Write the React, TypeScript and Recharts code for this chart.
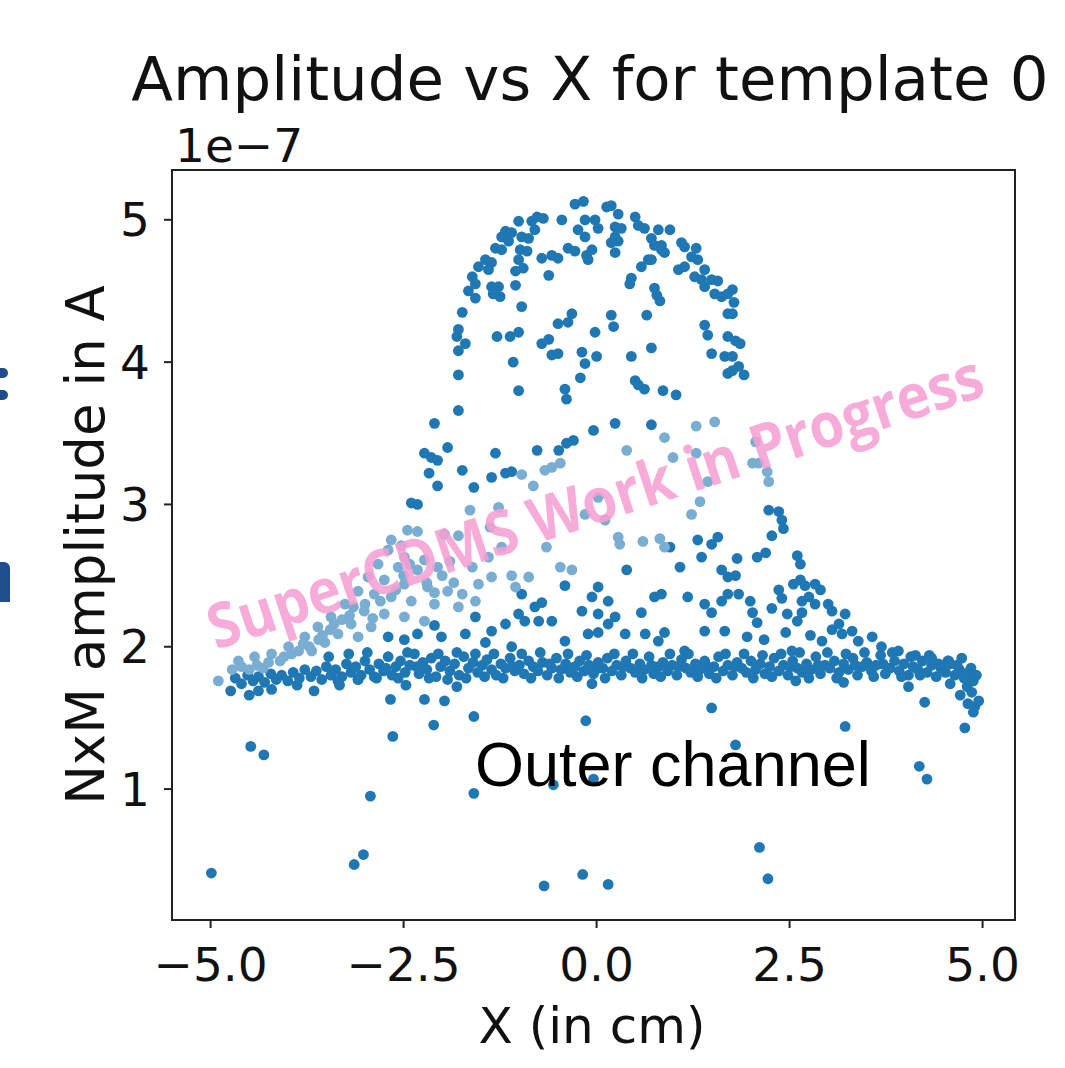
import { ScatterChart, Scatter, XAxis, YAxis } from 'recharts';

// x in cm, amplitude in units of 1e-7 A
const archPoints: [number, number][] = [
  [-0.17, 5.13], [-0.28, 5.11], [0.13, 5.09], [0.19, 5.1], [-0.77, 5.02], [-0.69, 5.01], [-0.45, 5.0],
  [-1.01, 4.99], [-0.84, 4.99], [-0.15, 5.0], [-0.02, 5.0], [0.28, 5.04], [0.5, 5.02], [0.24, 4.95],
  [0.32, 4.94], [0.02, 4.94], [-0.24, 4.93], [-0.15, 4.88], [-1.18, 4.92], [-1.1, 4.91], [-1.23, 4.88],
  [-0.97, 4.88], [-0.88, 4.87], [-0.8, 4.93], [0.54, 4.96], [0.62, 4.94], [0.8, 4.93], [0.95, 4.93],
  [0.24, 4.88], [0.28, 4.85], [0.19, 4.84], [0.71, 4.87], [0.75, 4.82], [0.84, 4.82], [1.1, 4.84],
  [1.14, 4.81], [1.29, 4.8], [-1.31, 4.8], [-1.23, 4.79], [-1.14, 4.85], [-0.99, 4.79], [-0.9, 4.78],
  [-0.71, 4.73], [-0.58, 4.75], [-0.5, 4.73], [-0.37, 4.8], [-0.28, 4.78], [-0.13, 4.75], [-0.06, 4.79],
  [-0.11, 4.72], [0.24, 4.77], [0.67, 4.72], [0.84, 4.79], [0.88, 4.77], [-1.44, 4.72], [-1.36, 4.7],
  [-1.4, 4.65], [-1.53, 4.67], [-1.01, 4.72], [-0.95, 4.66], [-1.05, 4.64], [-0.62, 4.61], [0.58, 4.67],
  [0.71, 4.72], [1.23, 4.74], [1.31, 4.72], [1.4, 4.65], [1.06, 4.65], [1.14, 4.67], [1.27, 4.6],
  [1.36, 4.58], [1.49, 4.58], [1.57, 4.57], [1.4, 4.53], [1.53, 4.48], [1.62, 4.46], [1.7, 4.48],
  [-1.61, 4.6], [-1.57, 4.55], [-1.66, 4.5], [-1.57, 4.45], [-1.36, 4.53], [-1.27, 4.53], [-1.34, 4.48],
  [-1.25, 4.46], [-1.05, 4.54], [0.45, 4.59], [0.43, 4.55], [0.75, 4.52], [0.78, 4.47], [0.82, 4.43],
  [-1.74, 4.35], [-0.97, 4.39], [-0.32, 4.34], [-0.37, 4.28], [-0.5, 4.27], [0.19, 4.33], [0.22, 4.25],
  [-0.02, 4.21], [0.65, 4.33], [1.4, 4.26], [1.44, 4.19], [1.7, 4.34], [1.7, 4.18], [-1.79, 4.23],
  [-1.81, 4.18], [-1.7, 4.13], [-1.79, 4.08], [-1.29, 4.18], [-1.12, 4.18], [-1.01, 4.21], [-0.71, 4.13],
  [-0.62, 4.16], [-0.58, 4.05], [-0.5, 4.06], [-0.19, 4.07], [-0.15, 3.99], [0.0, 4.04], [0.45, 4.04],
  [0.71, 4.1], [1.49, 4.06], [1.66, 4.04], [1.7, 3.92], [-1.79, 3.91], [-1.08, 4.0], [-0.21, 3.89],
  [0.5, 3.87], [0.62, 3.81], [0.54, 3.84], [0.86, 3.8], [1.03, 3.77], [-1.01, 3.8], [-0.41, 3.81],
  [-0.39, 3.74], [-1.79, 3.66], [1.76, 4.51], [1.78, 4.42], [1.76, 4.34], [1.8, 4.15], [1.86, 4.13],
  [1.76, 4.04], [1.84, 3.97], [1.91, 3.91], [1.76, 3.94],
];

const midPoints: [number, number][] = [
  [-2.1, 3.57], [-1.93, 3.4], [-2.23, 3.36], [-2.14, 3.33], [-2.06, 3.31], [-2.17, 3.22], [-2.06, 3.13],
  [-2.4, 3.01], [-2.32, 3.0], [-2.1, 2.15], [-2.7, 2.07], [-2.49, 2.05], [-2.32, 2.09], [-2.01, 2.07],
  [-0.04, 3.52], [0.24, 3.57], [0.71, 3.56], [-1.31, 3.36], [-0.77, 3.38], [-0.49, 3.38], [-0.39, 3.43],
  [-0.3, 3.45], [-1.74, 3.24], [-1.36, 3.19], [-1.18, 3.22], [-1.1, 3.23], [-1.59, 3.12], [0.95, 2.7],
  [1.31, 2.75], [1.49, 2.72], [1.57, 2.77], [1.36, 2.63], [0.39, 2.54], [1.08, 2.56], [1.62, 2.54],
  [1.7, 2.49], [-0.41, 2.43], [-0.97, 2.37], [-0.71, 2.31], [-0.8, 2.28], [0.02, 2.42], [0.15, 2.32],
  [-0.06, 2.35], [-0.19, 2.25], [0.02, 2.23], [0.24, 2.21], [0.15, 2.16], [-0.11, 2.09], [0.02, 2.1],
  [0.58, 2.24], [0.75, 2.35], [0.84, 2.37], [1.18, 2.35], [1.4, 2.3], [1.49, 2.24], [1.62, 2.32],
  [1.7, 2.37], [-1.01, 2.23], [-0.93, 2.18], [-0.75, 2.18], [-0.58, 2.18], [-1.18, 2.16], [-1.36, 2.11],
  [-1.57, 2.21], [-1.7, 2.09], [0.88, 2.1], [0.63, 2.09], [1.4, 2.11], [1.66, 2.11], [0.37, 2.09],
  [-0.41, 2.04], [-1.44, 2.03], [-1.1, 2.0], [0.8, 2.04], [1.14, 1.97],
  [2.23, 2.96], [2.36, 2.95], [2.4, 2.89], [2.42, 2.83], [2.27, 2.78], [1.82, 2.62], [2.08, 2.63],
  [2.19, 2.66], [2.6, 2.64], [2.64, 2.58], [1.8, 2.5], [1.84, 2.37], [2.55, 2.44], [2.64, 2.47],
  [2.7, 2.43], [2.83, 2.44], [2.9, 2.4], [2.36, 2.4], [2.4, 2.34], [1.99, 2.32], [2.27, 2.27],
  [2.66, 2.32], [2.75, 2.35], [2.83, 2.3], [3.0, 2.3], [3.05, 2.25], [3.22, 2.23], [2.66, 2.24],
  [2.6, 2.18], [2.47, 2.23], [2.02, 2.24], [2.08, 2.17], [2.45, 2.1], [2.77, 2.08], [3.05, 2.12],
  [3.14, 2.16], [3.18, 2.09], [3.31, 2.11], [3.57, 2.07], [3.39, 2.04], [2.92, 2.04], [1.95, 2.07],
  [2.17, 2.05], [2.53, 1.97], [3.69, 2.0], [3.91, 1.97], [4.13, 1.94], [4.34, 1.92], [4.56, 1.9],
];

const bandPoints: [number, number][] = [
  [-4.68, 1.78], [-4.6, 1.74], [-4.52, 1.8], [-4.45, 1.76], [-4.38, 1.79], [-4.3, 1.75], [-4.22, 1.81],
  [-4.15, 1.77], [-4.08, 1.8], [-4.0, 1.76], [-3.93, 1.82], [-3.85, 1.78], [-3.78, 1.84], [-3.7, 1.79],
  [-3.63, 1.83], [-3.56, 1.77], [-3.5, 1.86], [-3.44, 1.8], [-3.38, 1.84], [-3.3, 1.79], [-3.24, 1.88],
  [-3.18, 1.82], [-3.12, 1.86], [-3.05, 1.8], [-3.0, 1.9], [-2.94, 1.84], [-2.88, 1.79], [-2.82, 1.88],
  [-2.76, 1.83], [-2.7, 1.93], [-2.65, 1.8], [-2.6, 1.86], [-2.54, 1.9], [-2.48, 1.82], [-2.42, 1.87],
  [-2.36, 1.95], [-2.3, 1.81], [-2.25, 1.89], [-2.2, 1.84], [-2.14, 1.92], [-2.08, 1.79], [-2.02, 1.86],
  [-1.96, 1.9], [-1.9, 1.83], [-1.84, 1.88], [-1.78, 1.8], [-1.72, 1.93], [-1.66, 1.85], [-1.6, 1.89],
  [-1.54, 1.82], [-1.48, 1.87], [-1.42, 1.91], [-1.36, 1.84], [-1.3, 1.8], [-1.24, 1.88], [-1.18, 1.85],
  [-1.12, 1.92], [-1.06, 1.83], [-1.0, 1.87], [-0.94, 1.81], [-0.88, 1.9], [-0.82, 1.86], [-0.76, 1.83],
  [-0.7, 1.89], [-0.64, 1.8], [-0.58, 1.85], [-0.52, 1.92], [-0.46, 1.84], [-0.4, 1.88], [-0.34, 1.82],
  [-0.28, 1.86], [-0.22, 1.9], [-0.16, 1.83], [-0.1, 1.87], [-0.04, 1.81], [0.02, 1.89], [0.08, 1.85],
  [0.14, 1.92], [0.2, 1.83], [0.26, 1.87], [0.32, 1.8], [0.38, 1.9], [0.44, 1.85], [0.5, 1.82],
  [0.56, 1.88], [0.62, 1.84], [0.68, 1.93], [0.74, 1.81], [0.8, 1.86], [0.86, 1.89], [0.92, 1.83],
  [0.98, 1.87], [1.04, 1.8], [1.1, 1.91], [1.16, 1.85], [1.22, 1.82], [1.28, 1.88], [1.34, 1.84],
  [1.4, 1.9], [1.46, 1.81], [1.52, 1.86], [1.58, 1.93], [1.64, 1.83], [1.7, 1.87], [1.76, 1.8],
  [1.82, 1.89], [1.88, 1.85], [1.94, 1.82], [2.0, 1.9], [2.06, 1.84], [2.12, 1.88], [2.18, 1.81],
  [2.24, 1.86], [2.3, 1.92], [2.36, 1.83], [2.42, 1.87], [2.48, 1.8], [2.54, 1.9], [2.6, 1.85],
  [2.66, 1.82], [2.72, 1.88], [2.78, 1.84], [2.84, 1.93], [2.9, 1.81], [2.96, 1.87], [3.02, 1.85],
  [3.08, 1.9], [3.14, 1.82], [3.2, 1.88], [3.26, 1.84], [3.32, 1.92], [3.38, 1.8], [3.44, 1.86],
  [3.5, 1.89], [3.56, 1.83], [3.62, 1.87], [3.68, 1.94], [3.74, 1.81], [3.8, 1.85], [3.86, 1.9],
  [3.92, 1.83], [3.98, 1.88], [4.04, 1.8], [4.1, 1.86], [4.16, 1.84], [4.22, 1.9], [4.28, 1.82],
  [4.34, 1.87], [4.4, 1.79], [4.46, 1.85], [4.52, 1.82], [4.58, 1.88], [4.64, 1.8], [4.7, 1.84],
  [4.76, 1.78], [4.82, 1.82], [4.88, 1.76], [4.92, 1.8], [4.95, 1.62], [4.9, 1.58], [4.86, 1.68],
  [4.8, 1.72],
  [-3.47, 1.93], [-3.35, 1.76], [-3.21, 1.95], [-3.09, 1.77], [-2.97, 1.96], [-2.85, 1.78], [-2.73, 1.85],
  [-2.57, 1.78], [-2.45, 1.96], [-2.33, 1.86], [-2.17, 1.78], [-2.05, 1.95], [-1.93, 1.77], [-1.81, 1.96],
  [-1.69, 1.78], [-1.57, 1.95], [-1.45, 1.79], [-1.33, 1.95], [-1.21, 1.78], [-1.09, 1.86], [-0.97, 1.95],
  [-0.85, 1.78], [-0.73, 1.96], [-0.61, 1.88], [-0.49, 1.78], [-0.37, 1.95], [-0.25, 1.79], [-0.13, 1.94],
  [-0.01, 1.84], [0.11, 1.78], [0.23, 1.95], [0.35, 1.86], [0.47, 1.95], [0.59, 1.78], [0.71, 1.87],
  [0.83, 1.79], [0.95, 1.95], [1.07, 1.86], [1.19, 1.95], [1.31, 1.79], [1.43, 1.86], [1.55, 1.78],
  [1.67, 1.95], [1.79, 1.86], [1.91, 1.95], [2.03, 1.78], [2.15, 1.94], [2.27, 1.79], [2.39, 1.95],
  [2.51, 1.86], [2.63, 1.96], [2.75, 1.78], [2.87, 1.87], [2.99, 1.96], [3.11, 1.78], [3.23, 1.95],
  [3.35, 1.87], [3.47, 1.96], [3.59, 1.79], [3.71, 1.88], [3.83, 1.96], [3.95, 1.79], [4.07, 1.93],
  [4.19, 1.8], [4.31, 1.94], [4.43, 1.88], [4.55, 1.9], [4.67, 1.87], [4.73, 1.92], [4.85, 1.85],
];

const lowPoints: [number, number][] = [
  [-4.74, 1.69], [-4.5, 1.66], [-4.38, 1.69], [-4.21, 1.7], [-3.88, 1.73], [-3.66, 1.69], [-3.33, 1.73],
  [-3.09, 1.77], [-2.67, 1.63], [-2.47, 1.73], [-2.23, 1.63], [-1.97, 1.62], [-2.11, 1.45], [-2.64, 1.37],
  [-4.48, 1.3], [-4.31, 1.24], [-2.93, 0.95], [-3.02, 0.54], [-3.14, 0.47], [-4.99, 0.41],
  [-1.81, 1.72], [-1.59, 1.51], [-0.14, 1.48], [-0.06, 1.74], [1.49, 1.57], [-1.59, 0.97], [-0.56, 1.03],
  [-0.04, 1.07], [-0.68, 0.32], [-0.18, 0.4], [0.15, 0.33],
  [4.25, 1.61], [4.71, 1.66], [4.81, 1.6], [4.88, 1.54], [4.77, 1.43], [3.22, 1.44], [1.8, 1.31],
  [4.18, 1.16], [4.28, 1.07], [2.11, 0.59], [2.22, 0.37], [4.04, 1.72], [4.58, 1.74], [3.2, 1.75],
  [2.58, 1.76],
];

// points that sit under the watermark band look paler
const lightPoints: [number, number][] = [
  [-2.45, 2.82], [-2.32, 2.81], [-1.97, 2.79], [-2.66, 2.75], [-2.53, 2.71], [-2.7, 2.68], [-2.49, 2.63],
  [-2.23, 2.61], [-2.83, 2.58], [-2.57, 2.56], [-2.32, 2.54], [-2.06, 2.56], [-2.96, 2.49], [-2.75, 2.47],
  [-2.49, 2.44], [-2.19, 2.42], [-1.93, 2.39], [-3.09, 2.39], [-2.88, 2.37], [-2.66, 2.35], [-2.4, 2.32],
  [-2.1, 2.3], [-3.26, 2.3], [-3.01, 2.25], [-2.75, 2.23], [-2.49, 2.21], [-2.23, 2.18], [-3.44, 2.21],
  [-3.18, 2.16], [-2.92, 2.14], [-3.61, 2.14], [-3.35, 2.09], [-3.09, 2.07], [-3.78, 2.07], [-3.52, 2.03],
  [-3.99, 2.0], [-4.21, 1.95], [-4.43, 1.93], [-4.64, 1.9], [-3.69, 1.97], [-4.9, 1.76],
  [-4.72, 1.84], [-4.6, 1.86], [-4.5, 1.84], [-4.4, 1.87], [-4.32, 1.85], [-4.25, 1.89], [-4.1, 1.9],
  [-4.05, 1.93], [-3.95, 1.95], [-3.86, 1.97], [-3.8, 2.02], [-3.72, 2.0], [-3.6, 2.05], [-3.55, 2.08],
  [-3.45, 2.12], [-3.4, 2.16], [-3.3, 2.19], [-3.2, 2.22], [-3.15, 2.28], [-3.0, 2.3], [-2.9, 2.2],
  [-2.8, 2.32], [-2.6, 2.4], [-2.5, 2.5], [-2.42, 2.58], [-2.2, 2.45], [-2.1, 2.38], [-2.0, 2.5],
  [-1.9, 2.6], [-1.85, 2.45],
  [1.29, 3.55], [0.88, 3.47], [0.39, 3.38], [0.99, 3.33], [1.29, 3.36], [1.53, 3.58], [-0.97, 3.21],
  [-0.82, 3.13], [-0.67, 3.24], [-0.58, 3.26], [-0.47, 3.29], [-1.27, 2.98], [-1.64, 2.96], [-1.79, 2.78],
  [-1.38, 2.84], [-1.23, 2.7], [0.02, 3.05], [0.11, 2.89], [-0.15, 2.93], [0.28, 2.77], [0.3, 2.72],
  [0.6, 2.74], [0.82, 2.76], [0.88, 2.7], [1.34, 3.02], [1.44, 3.16], [1.23, 2.93], [-0.65, 2.7],
  [-0.47, 2.56], [-0.32, 2.54], [-0.88, 2.49], [-1.1, 2.5], [-1.36, 2.49], [-1.53, 2.44], [-1.74, 2.37],
  [-1.4, 2.63], [-1.61, 2.56], [-1.05, 2.42], [-1.57, 2.32], [-1.79, 2.28],
  [2.06, 3.44], [2.02, 3.29], [2.1, 3.29], [2.21, 3.23], [2.23, 3.16],
];

const xTicks = [-5, -2.5, 0, 2.5, 5];
const yTicks = [1, 2, 3, 4, 5];

const DARK = '#1f77b4';
const LIGHT = '#79add2';
const FONT = '"DejaVu Sans", sans-serif';

const toXY = (pts: [number, number][]) => pts.map(([x, y]) => ({ x, y }));

const dot = (color: string) => (props: any) => (
  <circle cx={props.cx} cy={props.cy} r={5.4} fill={color} />
);

const fmtX = (v: number) => (v < 0 ? '\u2212' : '') + Math.abs(v).toFixed(1);

const App = () => {
  const darkData = toXY([...bandPoints, ...lowPoints, ...midPoints, ...archPoints]);
  const lightData = toXY(lightPoints);

  return (
    <div style={{ position: 'absolute', left: 0, top: 0, width: 1065, height: 1068, background: '#fff' }}>
      <ScatterChart width={1065} height={1068} margin={{ top: 170, right: 50, bottom: 88, left: 72 }}>
        <XAxis
          type="number"
          dataKey="x"
          domain={[-5.5, 5.42]}
          ticks={xTicks}
          tickFormatter={fmtX}
          height={60}
          axisLine={false}
          tickSize={8}
          tickMargin={20}
          stroke="#222"
          tickLine={{ stroke: '#222', strokeWidth: 2 }}
          tick={{ fontSize: 47, fill: '#111', fontFamily: FONT }}
          allowDataOverflow
        />
        <YAxis
          type="number"
          dataKey="y"
          domain={[0.08, 5.35]}
          ticks={yTicks}
          width={100}
          axisLine={false}
          tickSize={8}
          tickMargin={14}
          stroke="#222"
          tickLine={{ stroke: '#222', strokeWidth: 2 }}
          tick={{ fontSize: 47, fill: '#111', fontFamily: FONT }}
          allowDataOverflow
        />
        <Scatter data={darkData} fill={DARK} shape={dot(DARK)} isAnimationActive={false} />
        <Scatter data={lightData} fill={LIGHT} shape={dot(LIGHT)} isAnimationActive={false} />
      </ScatterChart>

      {/* axes frame */}
      <div
        style={{
          position: 'absolute', left: 171, top: 169, width: 845, height: 752,
          border: '2px solid #222', boxSizing: 'border-box', pointerEvents: 'none',
        }}
      />

      <svg width={1065} height={1068} style={{ position: 'absolute', left: 0, top: 0, pointerEvents: 'none' }}>
        <text x={590} y={100} textAnchor="middle" fontSize={61} fontFamily={FONT} fill="#111">
          Amplitude vs X for template 0
        </text>
        <text x={175} y={162} fontSize={47} fontFamily={FONT} fill="#111">1e{'\u2212'}7</text>
        <text
          x={0} y={0} transform="translate(104,545) rotate(-90)" textAnchor="middle"
          fontSize={53} fontFamily={FONT} fill="#111"
        >
          NxM amplitude in A
        </text>
        <text x={592} y={1043} textAnchor="middle" fontSize={50} fontFamily={FONT} fill="#111">
          X (in cm)
        </text>
        <text x={475} y={786} fontSize={63} fontFamily='"Liberation Sans", Arial, sans-serif' fill="#000">
          Outer channel
        </text>
        <text
          x={0} y={0} transform="translate(216,650) rotate(-18.3)"
          fontSize={62} fontWeight={700} fontFamily='"Open Sans", sans-serif'
          fill="#f59fd3" fillOpacity={0.88} textLength={813} lengthAdjust="spacingAndGlyphs"
        >
          SuperCDMS Work in Progress
        </text>
      </svg>

      {/* fragments of slide text cut at the left edge */}
      <div style={{ position: 'absolute', left: 0, top: 368, width: 8, height: 10, background: '#1f4e8c', borderRadius: '0 5px 5px 0' }} />
      <div style={{ position: 'absolute', left: 0, top: 390, width: 8, height: 10, background: '#1f4e8c', borderRadius: '0 5px 5px 0' }} />
      <div style={{ position: 'absolute', left: 0, top: 562, width: 10, height: 40, background: '#1f4e8c', borderRadius: '0 6px 0 0' }} />
    </div>
  );
};

export default App;
